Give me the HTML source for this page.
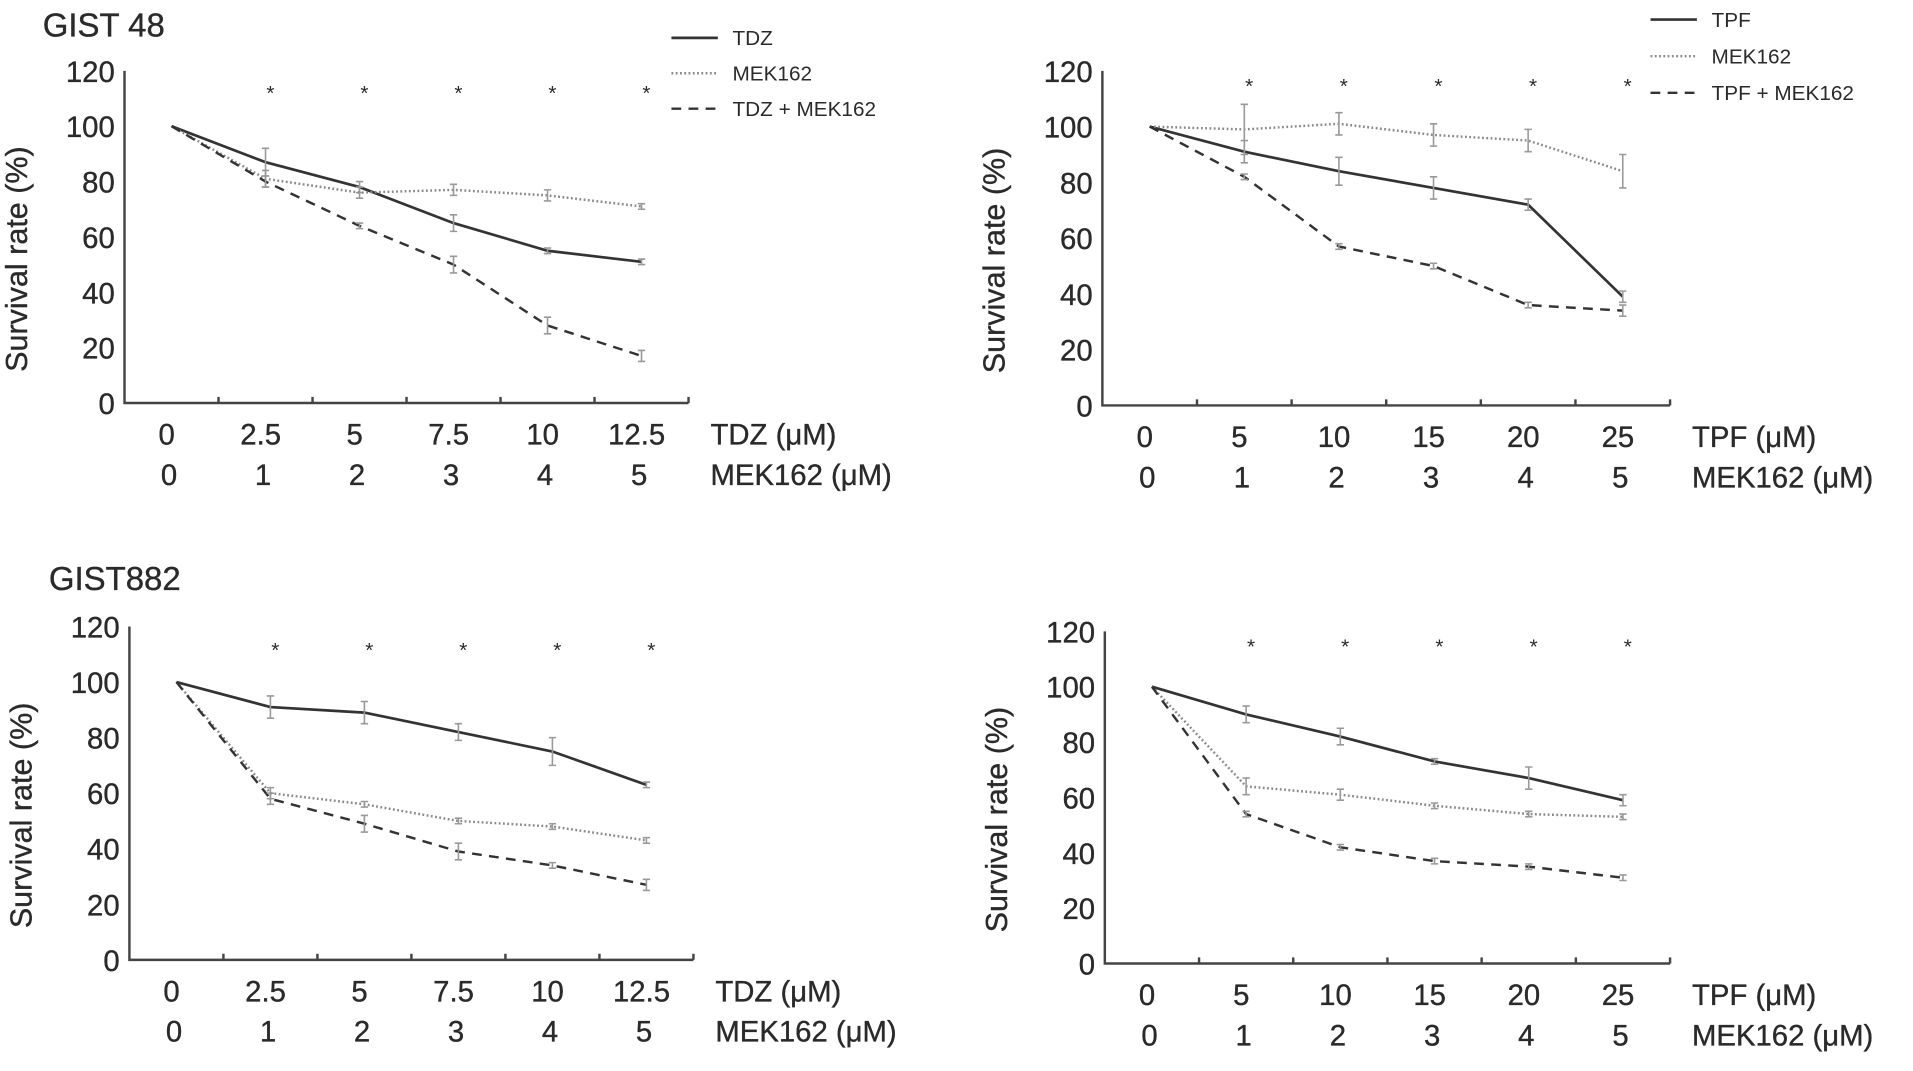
<!DOCTYPE html>
<html><head><meta charset="utf-8"><style>
html,body{margin:0;padding:0;background:#fff;}
svg{display:block;font-family:"Liberation Sans",sans-serif;}
</style></head><body>
<svg id="fig" width="1913" height="1071" viewBox="0 0 1567 877" preserveAspectRatio="none" xmlns="http://www.w3.org/2000/svg"></svg>
<script>
// ---- data ----
const yTicks = [0,20,40,60,80,100,120];
const tdzDoses = ["0","2.5","5","7.5","10","12.5"];
const tpfDoses = ["0","5","10","15","20","25"];
const mekDoses = ["0","1","2","3","4","5"];

const g48Tdz   = [100,87,78,65,55,51];
const g48Mek   = [100,81,76,77,75,71];
const g48Combo = [100,80,64,50,28,17];
const g48TdzErr   = [0,5,2,3,1,1];
const g48MekErr   = [0,3,2,2,2,1];
const g48ComboErr = [0,2,1,3,3,2];

const g48Tpf    = [100,91,84,78,72,39];
const g48Mek2   = [100,99,101,97,95,84];
const g48Combo2 = [100,82,57,50,36,34];
const g48TpfErr   = [0,4,5,4,2,2];
const g48Mek2Err  = [0,9,4,4,4,6];
const g48Combo2Err= [0,1,1,1,1,2];

const g882Tdz   = [100,91,89,82,75,63];
const g882Mek   = [100,60,56,50,48,43];
const g882Combo = [100,58,49,39,34,27];
const g882TdzErr   = [0,4,4,3,5,1];
const g882MekErr   = [0,2,1,1,1,1];
const g882ComboErr = [0,2,3,3,1,2];

const g882Tpf    = [100,90,82,73,67,59];
const g882Mek2   = [100,64,61,57,54,53];
const g882Combo2 = [100,54,42,37,35,31];
const g882TpfErr   = [0,3,3,1,4,2];
const g882Mek2Err  = [0,3,2,1,1,1];
const g882Combo2Err= [0,1,1,1,1,1];

const svg = document.getElementById('fig');
const NS = 'http://www.w3.org/2000/svg';
function mk(tag, attrs, parent){
  const e = document.createElementNS(NS, tag);
  for (const k in attrs) e.setAttribute(k, attrs[k]);
  (parent||svg).appendChild(e);
  return e;
}
const STY = {
  solid: {stroke:'#333', 'stroke-width':2.2, fill:'none'},
  dotted:{stroke:'#8a8a8a', 'stroke-width':2, fill:'none', 'stroke-dasharray':'1.5,2'},
  dashed:{stroke:'#333', 'stroke-width':2, fill:'none', 'stroke-dasharray':'8,6'}
};
const TXT = '#2a2a2a';

function panel(p){
  const g = mk('g', {});
  
  
  const step = (p.x1 - p.x0)/6;
  const xS = i => p.x0 + step/2 + step*i;
  const yS = v => p.y0 - (p.y0 - p.yTop) * v/120;
  const ax = mk('path', {d:`M${p.x0},${yS(120)} L${p.x0},${p.y0} L${p.x1},${p.y0}`, stroke:'#444','stroke-width':2,fill:'none'}, g);
  
  
  for (let i=1;i<=6;i++) mk('line',{x1:p.x0+step*i,y1:p.y0,x2:p.x0+step*i,y2:p.y0-5,stroke:'#444','stroke-width':2},g);
  yTicks.forEach(v=>{
    const t = mk('text',{x:p.x0-8,y:yS(v)+9,'font-size':24,'text-anchor':'end',fill:TXT,'stroke':TXT,'stroke-width':0.3},g);
    t.textContent = v;
    
    
  });
  const yt = mk('text',{x:0,y:0,'font-size':25,'text-anchor':'middle',fill:TXT,'stroke':TXT,'stroke-width':0.3,transform:`translate(${p.x0-80},${yS(52)}) rotate(-90)`},g);
  yt.textContent = 'Survival rate (%)';
  
  
  p.row1.forEach((s,i)=>{
    const t = mk('text',{x:xS(i)-4,y:p.y0+34,'font-size':24,'text-anchor':'middle',fill:TXT,'stroke':TXT,'stroke-width':0.3},g);
    t.textContent = s;
    
    
  });
  mekDoses.forEach((s,i)=>{
    const t = mk('text',{x:xS(i)-2,y:p.y0+67,'font-size':24,'text-anchor':'middle',fill:TXT,'stroke':TXT,'stroke-width':0.3},g);
    t.textContent = s;
    
    
  });
  const u1 = mk('text',{x:p.x1+18,y:p.y0+34,'font-size':24,fill:TXT,'stroke':TXT,'stroke-width':0.3},g);
  u1.textContent = p.drug + ' (μM)';
  
  
  const u2 = mk('text',{x:p.x1+18,y:p.y0+67,'font-size':24,fill:TXT,'stroke':TXT,'stroke-width':0.3},g);
  u2.textContent = 'MEK162 (μM)';
  
  
  p.series.forEach(s=>{
    const d = s.vals.map((v,i)=>(i?'L':'M')+xS(i)+','+yS(v)).join(' ');
    const ln = mk('path', Object.assign({d}, STY[s.style]), g);
    
    
    s.vals.forEach((v,i)=>{
      const e = s.err[i]; if(!e) return;
      const x = xS(i), a = yS(v+e), b = yS(v-e);
      const eb = mk('path',{d:`M${x},${a} L${x},${b} M${x-3},${a} L${x+3},${a} M${x-3},${b} L${x+3},${b}`,stroke:'#999','stroke-width':1.3,fill:'none'},g);
      
      
    });
  });
  for (let i=1;i<=5;i++){
    const t = mk('text',{x:xS(i)+4,y:p.starY+8,'font-size':17,'text-anchor':'middle',fill:TXT},g);
    t.textContent = '*';
    
    
  }
  if (p.legend){
    p.series.forEach((s,k)=>{
      const y = p.legend.y + k*p.legend.gap;
      const l = mk('line', Object.assign({x1:p.legend.x,y1:y,x2:p.legend.x+38,y2:y}, STY[s.style]), g);
      
      
      const t = mk('text',{x:p.legend.x+50,y:y+6,'font-size':17,fill:TXT},g);
      t.textContent = s.label;
      
      
    });
  }
}

panel({name:'gist48-tdz-panel', x0:102, x1:564, y0:330, yTop:58, starY:74, drug:'TDZ', row1:tdzDoses,
  legend:{x:550,y:31,gap:29},
  series:[{name:'tdz-line',label:'TDZ',style:'solid',vals:g48Tdz,err:g48TdzErr},
          {name:'mek162-line',label:'MEK162',style:'dotted',vals:g48Mek,err:g48MekErr},
          {name:'combo-line',label:'TDZ + MEK162',style:'dashed',vals:g48Combo,err:g48ComboErr}]});
panel({name:'gist48-tpf-panel', x0:903, x1:1368, y0:332, yTop:58, starY:68, drug:'TPF', row1:tpfDoses,
  legend:{x:1352,y:16,gap:30},
  series:[{name:'tpf-line',label:'TPF',style:'solid',vals:g48Tpf,err:g48TpfErr},
          {name:'mek162-line',label:'MEK162',style:'dotted',vals:g48Mek2,err:g48Mek2Err},
          {name:'combo-line',label:'TPF + MEK162',style:'dashed',vals:g48Combo2,err:g48Combo2Err}]});
panel({name:'gist882-tdz-panel', x0:106, x1:568, y0:786, yTop:513, starY:530, drug:'TDZ', row1:tdzDoses,
  series:[{name:'tdz-line',label:'TDZ',style:'solid',vals:g882Tdz,err:g882TdzErr},
          {name:'mek162-line',label:'MEK162',style:'dotted',vals:g882Mek,err:g882MekErr},
          {name:'combo-line',label:'TDZ + MEK162',style:'dashed',vals:g882Combo,err:g882ComboErr}]});
panel({name:'gist882-tpf-panel', x0:905, x1:1368, y0:789, yTop:517, starY:527, drug:'TPF', row1:tpfDoses,
  series:[{name:'tpf-line',label:'TPF',style:'solid',vals:g882Tpf,err:g882TpfErr},
          {name:'mek162-line',label:'MEK162',style:'dotted',vals:g882Mek2,err:g882Mek2Err},
          {name:'combo-line',label:'TPF + MEK162',style:'dashed',vals:g882Combo2,err:g882Combo2Err}]});

const t1 = mk('text',{x:35,y:30,'font-size':27,fill:TXT,'stroke':TXT,'stroke-width':0.3});
t1.textContent = 'GIST 48';


const t2 = mk('text',{x:40,y:483,'font-size':27,fill:TXT,'stroke':TXT,'stroke-width':0.3});
t2.textContent = 'GIST882';


</script>
</body></html>
